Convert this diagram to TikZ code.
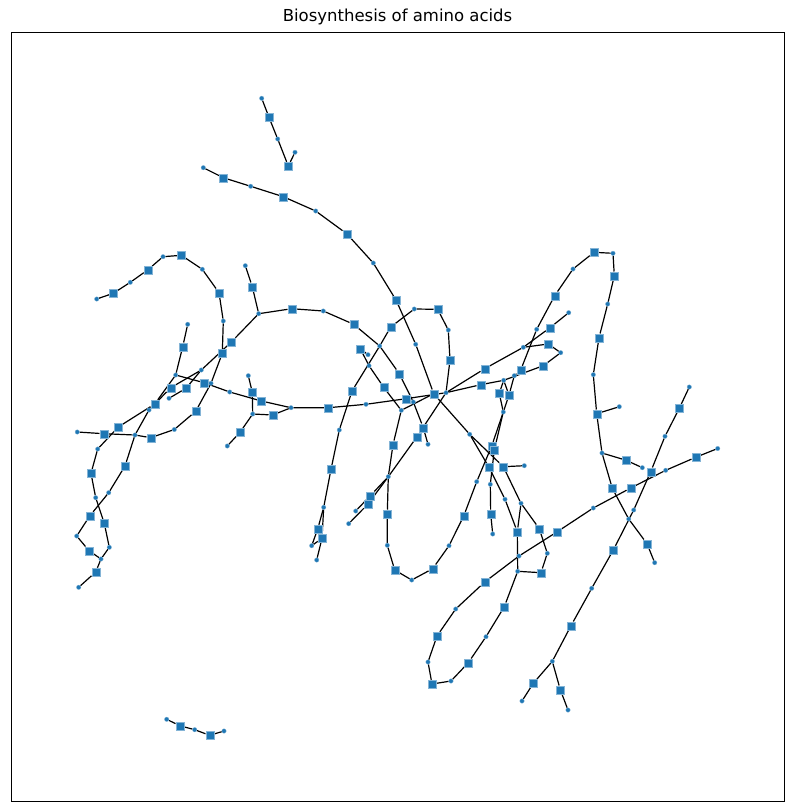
\documentclass[tikz,border=0pt]{standalone}
\usepackage{fontspec}
\setmainfont{DejaVu Sans}
\definecolor{nxblue}{RGB}{31,119,180}
\pgfdeclarelayer{edges}
\pgfsetlayers{edges,main}
\begin{document}
\begin{tikzpicture}[x=1pt,y=-1pt,
  sq/.style={rectangle,fill=nxblue,draw=nxblue!55!white,line width=0.4pt,minimum size=8pt,inner sep=0pt},
  dt/.style={circle,fill=nxblue,draw=nxblue!55!white,line width=0.3pt,minimum size=4.5pt,inner sep=0pt},
  ed/.style={draw=black,line width=1.2pt}]
\useasboundingbox (0,0) rectangle (794,812);
\node[anchor=base,font=\fontsize{16.5}{20}\selectfont] (title) at (397.5,21.5) {Biosynthesis of amino acids};
\draw[line width=0.8pt] (11,32) rectangle (784,801);
% chain 1
\node[dt] (c1a) at (261.7,98.3) {};
\node[sq] (c1b) at (269,117.3) {};
\node[dt] (c1c) at (277.7,139) {};
\node[sq] (c1d) at (288.3,166) {};
\node[dt] (c1e) at (295,152.3) {};
% chain A
\node[dt] (a1) at (203.3,167.7) {};
\node[sq] (a2) at (223.3,177.7) {};
\node[dt] (a3) at (250.7,186.3) {};
\node[sq] (a4) at (283.3,196.7) {};
\node[dt] (a5) at (315.7,211) {};
\node[sq] (a6) at (346.7,233.7) {};
\node[dt] (a7) at (373.3,263) {};
\node[sq] (a8) at (396.3,300.5) {};
\node[dt] (a9) at (415.7,344.3) {};
\node[sq] (q) at (433.7,393.7) {};
% chain B (upper left loop)
\node[dt] (b1) at (96.7,299) {};
\node[sq] (b2) at (113.3,293.3) {};
\node[dt] (b3) at (130.3,282.3) {};
\node[sq] (b4) at (148,269.7) {};
\node[dt] (b5) at (163,256.7) {};
\node[sq] (b6) at (181.3,255.3) {};
\node[dt] (b7) at (202.3,269.3) {};
\node[sq] (b8) at (219,292.7) {};
\node[dt] (b9) at (223.3,321) {};
\node[sq] (b10) at (222.3,353.3) {};
\node[dt] (b11) at (211,383.3) {};
\node[sq] (b12) at (195.7,411.3) {};
\node[dt] (b13) at (174.3,429.5) {};
\node[sq] (b14) at (150.7,437.7) {};
\node[dt] (b15) at (135,435) {};
\node[sq] (b16) at (103.7,433.7) {};
\node[dt] (b17) at (77.3,432) {};
% chain C
\node[dt] (c1) at (245.3,265.7) {};
\node[sq] (c2) at (252.3,286.7) {};
\node[dt] (c3) at (258.7,313.7) {};
\node[sq] (c4) at (291.7,308.7) {};
\node[dt] (c5) at (323.3,311) {};
\node[sq] (c6) at (353.7,324.3) {};
\node[dt] (j) at (379.7,346) {};
\node[sq] (c8) at (399.3,373.7) {};
\node[dt] (c9) at (413.3,402) {};
\node[sq] (c10) at (423.3,427.7) {};
\node[dt] (c11) at (428,444.3) {};
% chain E
\node[sq] (e1) at (231.3,342) {};
\node[dt] (e2) at (201.3,370) {};
\node[sq] (e3) at (170.7,387.7) {};
\node[dt] (e4) at (149,410) {};
\node[sq] (e5) at (186,388.3) {};
\node[dt] (e6) at (169,398.3) {};
% chain F
\node[dt] (f1) at (187.7,324.3) {};
\node[sq] (f2) at (182.7,346.7) {};
\node[dt] (f3) at (175.7,375) {};
\node[sq] (f4) at (154.7,404) {};
\node[sq] (f5) at (118.3,427) {};
\node[dt] (f6) at (97.7,449) {};
\node[sq] (f7) at (91,473.3) {};
\node[dt] (f8) at (95.7,497.7) {};
\node[sq] (f9) at (104.3,523.3) {};
\node[dt] (f10) at (109.3,547.3) {};
\node[dt] (f11) at (101,559) {};
\node[sq] (f12) at (95.7,572) {};
\node[dt] (f13) at (78.7,587.3) {};
% chain G
\node[sq] (g1) at (89,550.7) {};
\node[dt] (g2) at (76.7,536) {};
\node[sq] (g3) at (89.7,516) {};
\node[dt] (g4) at (108.7,492.7) {};
\node[sq] (g5) at (125,466) {};
% chain H
\node[sq] (h1) at (204,382.7) {};
\node[dt] (h2) at (229.7,392) {};
\node[sq] (h3) at (261.3,401) {};
\node[dt] (h4) at (291,407.7) {};
\node[sq] (h5) at (328.3,407.7) {};
\node[dt] (h6) at (366,404.3) {};
\node[sq] (h7) at (406,398.7) {};
\node[dt] (r) at (446,392.7) {};
% cluster K
\node[dt] (k1) at (248.3,375.7) {};
\node[sq] (k2) at (252.3,392.3) {};
\node[dt] (k3) at (252.7,414) {};
\node[sq] (k4) at (272.7,415) {};
\node[sq] (k5) at (240,432.3) {};
\node[dt] (k6) at (227.3,446) {};
% chain M
\node[sq] (m1) at (450,360) {};
\node[dt] (m2) at (448.3,330) {};
\node[sq] (m3) at (437.7,309.3) {};
\node[dt] (m4) at (414.3,309) {};
\node[sq] (m5) at (390.7,327) {};
\node[sq] (m6) at (352,391) {};
\node[dt] (m7) at (339.3,430) {};
\node[sq] (m8) at (331,469.3) {};
\node[dt] (m9) at (323.7,507.3) {};
\node[sq] (m10) at (317.7,529) {};
\node[dt] (m11) at (311.7,545.7) {};
\node[sq] (m12) at (322,538.3) {};
\node[dt] (m13) at (316.7,560) {};
% chain P
\node[dt] (p1) at (401.3,410.3) {};
\node[sq] (p2) at (383.7,387.3) {};
\node[dt] (p3) at (369,365.7) {};
\node[sq] (p4) at (360.3,348.7) {};
\node[dt] (p5) at (368,354.7) {};
\node[sq] (p6) at (393,444.7) {};
\node[dt] (cc) at (388.3,476.7) {};
\node[sq] (p7) at (387.3,513.7) {};
\node[dt] (p8) at (387.3,545.3) {};
\node[sq] (p9) at (394.7,570) {};
\node[dt] (p10) at (411.7,580) {};
\node[sq] (p11) at (432.7,568.7) {};
\node[dt] (p12) at (449,545.7) {};
\node[sq] (p13) at (463.7,516) {};
\node[dt] (p14) at (476.7,481.7) {};
\node[sq] (p15) at (491.7,446) {};
\node[dt] (p16) at (503.3,412) {};
% chain T
\node[sq] (t1) at (417,436.7) {};
\node[sq] (t2) at (370.3,495.7) {};
\node[dt] (t3) at (355.7,511) {};
\node[sq] (t4) at (368,504) {};
\node[dt] (t5) at (348.7,523.7) {};
% chain U
\node[dt] (u1) at (469.7,434.3) {};
\node[sq] (u2) at (503.3,466.7) {};
\node[dt] (u3) at (524.3,465.7) {};
\node[dt] (u4) at (521,503.3) {};
\node[sq] (u5) at (539.3,528.7) {};
\node[dt] (u6) at (547.3,553.3) {};
\node[sq] (u7) at (541,572.7) {};
\node[dt] (u8) at (517.7,571.3) {};
\node[sq] (u9) at (489,467.3) {};
\node[dt] (u10) at (505,499.3) {};
\node[sq] (u11) at (517.3,531.7) {};
\node[sq] (u12) at (494.3,450) {};
\node[dt] (u13) at (490.3,484.3) {};
\node[sq] (u14) at (490.7,513.7) {};
\node[dt] (u15) at (492.7,534) {};
% diamond and surroundings
\node[dt] (v1) at (503.7,380.3) {};
\node[sq] (v2) at (499.3,393.3) {};
\node[sq] (v3) at (509,395) {};
\node[sq] (v4) at (480.7,384.7) {};
\node[sq] (v5) at (543.3,365.7) {};
\node[dt] (v6) at (514.3,375.7) {};
\node[sq] (w1) at (554.7,295.7) {};
\node[dt] (w2) at (536.7,329.3) {};
\node[sq] (w3) at (520.7,370) {};
\node[sq] (w4) at (484.7,368.7) {};
\node[dt] (w5) at (523.3,347.3) {};
\node[sq] (w6) at (548.3,344) {};
\node[dt] (w7) at (560.7,352.7) {};
\node[sq] (w8) at (550,327.7) {};
\node[dt] (w9) at (568.7,312.7) {};
% right loop
\node[dt] (x1) at (573,269) {};
\node[sq] (x2) at (594,252.3) {};
\node[dt] (x3) at (613,253.3) {};
\node[sq] (x4) at (614.3,275.7) {};
\node[dt] (x5) at (607.7,304) {};
\node[sq] (x6) at (599,337.7) {};
\node[dt] (x7) at (593.3,374.7) {};
\node[sq] (x8) at (596.7,413.7) {};
\node[dt] (x9) at (602,453) {};
\node[sq] (x10) at (626.3,460.3) {};
\node[dt] (x11) at (642.3,467.7) {};
\node[dt] (x12) at (619.3,406.7) {};
\node[sq] (y1) at (612.3,488.3) {};
\node[dt] (y2) at (628.7,519) {};
\node[sq] (y3) at (647,543.7) {};
\node[dt] (y4) at (654.7,562.7) {};
% chain Z
\node[dt] (z1) at (689.3,387) {};
\node[sq] (z2) at (679.3,408.3) {};
\node[dt] (z3) at (665,436.3) {};
\node[sq] (z4) at (650.7,471.7) {};
\node[dt] (z5) at (633.7,510) {};
\node[sq] (z6) at (613.3,550) {};
\node[dt] (z7) at (591.7,588.3) {};
\node[sq] (z8) at (571,625.7) {};
\node[dt] (z9) at (552.3,661.3) {};
\node[sq] (z10) at (533.3,683.3) {};
\node[dt] (z11) at (522,701) {};
\node[sq] (z12) at (560.3,689.7) {};
\node[dt] (z13) at (568,710) {};
% long diagonal and bottom loop
\node[dt] (o1) at (717.7,448.5) {};
\node[sq] (o2) at (695.7,457.3) {};
\node[dt] (o3) at (665.7,470.3) {};
\node[sq] (o4) at (630.7,488) {};
\node[dt] (o5) at (593.3,508) {};
\node[sq] (o6) at (557.3,531.7) {};
\node[dt] (o7) at (519,556) {};
\node[sq] (o8) at (484.7,582) {};
\node[dt] (o9) at (455.7,609) {};
\node[sq] (o10) at (437,636) {};
\node[dt] (o11) at (428,662) {};
\node[sq] (o12) at (432,684) {};
\node[dt] (o13) at (451,681) {};
\node[sq] (o14) at (468.3,662.7) {};
\node[dt] (o15) at (486,636.7) {};
\node[sq] (o16) at (504.3,606.7) {};
% bottom left
\node[dt] (bl1) at (166.7,719.3) {};
\node[sq] (bl2) at (179.7,725.7) {};
\node[dt] (bl3) at (194.7,729.7) {};
\node[sq] (bl4) at (209.7,735.3) {};
\node[dt] (bl5) at (224,731) {};
\begin{pgfonlayer}{edges}
\draw[ed] (c1a)--(c1b)--(c1c)--(c1d)--(c1e);
\draw[ed] (a1)--(a2)--(a3)--(a4)--(a5)--(a6)--(a7)--(a8)--(a9)--(q);
\draw[ed] (b1)--(b2)--(b3)--(b4)--(b5)--(b6)--(b7)--(b8)--(b9)--(b10)--(b11)--(b12)--(b13)--(b14)--(b15)--(b16)--(b17);
\draw[ed] (c1)--(c2)--(c3)--(c4)--(c5)--(c6)--(j)--(c8)--(c9)--(c10)--(c11);
\draw[ed] (c3)--(e1)--(e2)--(e3)--(e4)--(b15)--(g5)--(g4)--(g3)--(g2)--(g1)--(f11);
\draw[ed] (e2)--(e5)--(e6);
\draw[ed] (f1)--(f2)--(f3)--(f4)--(f5)--(f6)--(f7)--(f8)--(f9)--(f10)--(f11)--(f12)--(f13);
\draw[ed] (f3)--(h1)--(h2)--(h3)--(h4)--(h5)--(h6)--(h7)--(r);
\draw[ed] (k1)--(k2)--(k3)--(k4)--(h4);
\draw[ed] (k3)--(k5)--(k6);
\draw[ed] (r)--(m1)--(m2)--(m3)--(m4)--(m5)--(j)--(m6)--(m7)--(m8)--(m9)--(m10)--(m11)--(m12)--(m13);
\draw[ed] (m9)--(m12);
\draw[ed] (q)--(p1)--(p2)--(p3)--(p4)--(p5);
\draw[ed] (p1)--(p6)--(cc)--(p7)--(p8)--(p9)--(p10)--(p11)--(p12)--(p13)--(p14)--(p15)--(p16);
\draw[ed] (r)--(t1)--(cc);
\draw[ed] (cc)--(t2)--(t3);
\draw[ed] (cc)--(t4)--(t5);
\draw[ed] (q)--(u1)--(u2)--(u3);
\draw[ed] (u2)--(u4)--(u5)--(u6)--(u7)--(u8);
\draw[ed] (u1)--(u9)--(u10)--(u11)--(u8);
\draw[ed] (u4)--(u11);
\draw[ed] (p16)--(u12)--(u13)--(u14)--(u15);
\draw[ed] (v1)--(v2)--(p16);
\draw[ed] (v1)--(v3)--(p16);
\draw[ed] (r)--(v4)--(v1)--(v5);
\draw[ed] (w1)--(w2)--(w3)--(v6)--(v3);
\draw[ed] (r)--(w4)--(w5)--(w6)--(w7)--(v5);
\draw[ed] (w5)--(w8)--(w9);
\draw[ed] (w1)--(x1)--(x2)--(x3)--(x4)--(x5)--(x6)--(x7)--(x8)--(x9)--(x10)--(x11);
\draw[ed] (x8)--(x12);
\draw[ed] (x9)--(y1)--(y2)--(y3)--(y4);
\draw[ed] (z1)--(z2)--(z3)--(z4)--(z5)--(z6)--(z7)--(z8)--(z9)--(z10)--(z11);
\draw[ed] (z9)--(z12)--(z13);
\draw[ed] (o1)--(o2)--(o3)--(o4)--(o5)--(o6)--(o7)--(o8)--(o9)--(o10)--(o11)--(o12)--(o13)--(o14)--(o15)--(o16)--(u8);
\draw[ed] (bl1)--(bl2)--(bl3)--(bl4)--(bl5);
\end{pgfonlayer}
\end{tikzpicture}
\end{document}
